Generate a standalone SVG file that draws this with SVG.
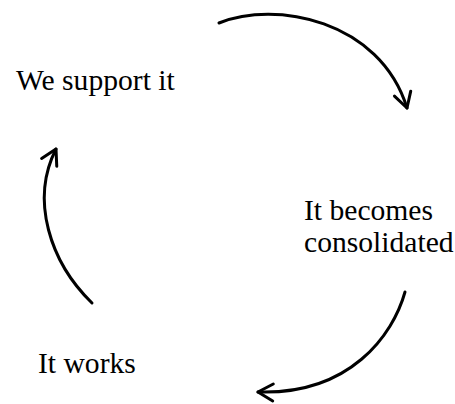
<svg xmlns="http://www.w3.org/2000/svg" width="455" height="404" viewBox="0 0 455 404">
<style>
.lbl{font-family:"Liberation Serif","Times New Roman",serif;font-size:29.6px;fill:#000}
.arc{fill:none;stroke:#000;stroke-width:3;stroke-linecap:round}
</style>
<defs>
<marker id="ah" markerUnits="userSpaceOnUse" markerWidth="40" markerHeight="40" refX="0" refY="0" orient="auto" overflow="visible" viewBox="-20 -20 40 40">
<path d="M-15,-8.5 L0,0 L-15,8.5" fill="none" stroke="#000" stroke-width="3" stroke-linecap="round" stroke-linejoin="round"/>
</marker>
</defs>
<rect width="455" height="404" fill="#fff"/>
<g id="connectors">
<path class="arc" d="M219,23 C275,0 380,20 407,108" marker-end="url(#ah)"/>
<path class="arc" d="M405,292 C393,335 350,395 258,392" marker-end="url(#ah)"/>
<path class="arc" d="M92,303 C50,262 30,200 56,149" marker-end="url(#ah)"/>
</g>
<g id="node-support"><text class="lbl" x="16" y="90">We support it</text></g>
<g id="node-consolidated"><text class="lbl" x="304" y="220">It becomes</text><text class="lbl" x="304" y="252">consolidated</text></g>
<g id="node-works"><text class="lbl" x="38" y="373">It works</text></g>
</svg>
